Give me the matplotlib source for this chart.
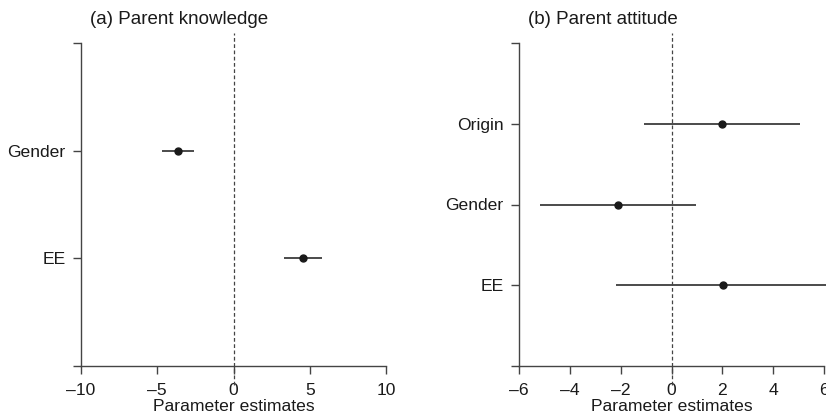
"""Two-panel forest plot: parameter estimates with intervals for parent knowledge and attitude."""

import matplotlib

matplotlib.use("Agg")
import matplotlib.pyplot as plt

plt.rcParams["font.family"] = ["Liberation Sans", "DejaVu Sans"]

# (a) Parent knowledge
KNOW_LABELS = ["EE", "Gender"]
KNOW_EST = [4.54, -3.62]
KNOW_LO = [3.33, -4.67]
KNOW_HI = [5.78, -2.57]
KNOW_XTICKS = [-10, -5, 0, 5, 10]

# (b) Parent attitude
ATT_LABELS = ["EE", "Gender", "Origin"]
ATT_EST = [2.02, -2.09, 1.98]
ATT_LO = [-2.2, -5.16, -1.1]
ATT_HI = [6.3, 0.97, 5.07]
ATT_XTICKS = [-6, -4, -2, 0, 2, 4, 6]

AXIS_COLOR = "#444444"
INK = "#1a1a1a"


def _panel(ax, labels, est, lo, hi, xticks, title):
    n = len(labels)
    ypos = list(range(1, n + 1))
    for y, e, a, b in zip(ypos, est, lo, hi):
        ax.plot([a, b], [y, y], color=INK, lw=1.1, clip_on=False, solid_capstyle="butt")
        ax.plot([e], [y], "o", color=INK, ms=5, clip_on=False)

    ax.set_xlim(xticks[0], xticks[-1])
    ax.set_ylim(0, n + 1)
    top = n + 1
    ax.plot([0, 0], [-0.18 * top / 3, top + 0.09 * top / 3], color=AXIS_COLOR,
            lw=0.9, ls=(0, (3, 2)), clip_on=False)

    ax.set_xticks(xticks)
    ax.set_xticklabels([str(t).replace("-", "\u2013") for t in xticks])
    ax.set_yticks([0] + ypos + [n + 1])
    ax.set_yticklabels([""] + labels + [""])

    for side in ("top", "right"):
        ax.spines[side].set_visible(False)
    for side in ("left", "bottom"):
        ax.spines[side].set_color(AXIS_COLOR)
        ax.spines[side].set_linewidth(1.0)
    ax.tick_params(axis="both", direction="out", length=6, width=1.0,
                   color=AXIS_COLOR, labelsize=12.6, labelcolor=INK)
    ax.tick_params(axis="y", pad=5)
    ax.tick_params(axis="x", pad=6)
    ax.set_xlabel("Parameter estimates", fontsize=12.6, color=INK, labelpad=1)
    ax.text(0.03, 1.045, title, transform=ax.transAxes, fontsize=13.5,
            color=INK, ha="left", va="bottom")


fig = plt.figure(figsize=(8.26, 4.2), dpi=100)
ax_a = fig.add_axes([81 / 826, 54 / 420, 305 / 826, 323 / 420])
ax_b = fig.add_axes([519 / 826, 54 / 420, 305 / 826, 323 / 420])

_panel(ax_a, KNOW_LABELS, KNOW_EST, KNOW_LO, KNOW_HI, KNOW_XTICKS, "(a) Parent knowledge")
_panel(ax_b, ATT_LABELS, ATT_EST, ATT_LO, ATT_HI, ATT_XTICKS, "(b) Parent attitude")

fig.savefig("out.png", dpi=100)
